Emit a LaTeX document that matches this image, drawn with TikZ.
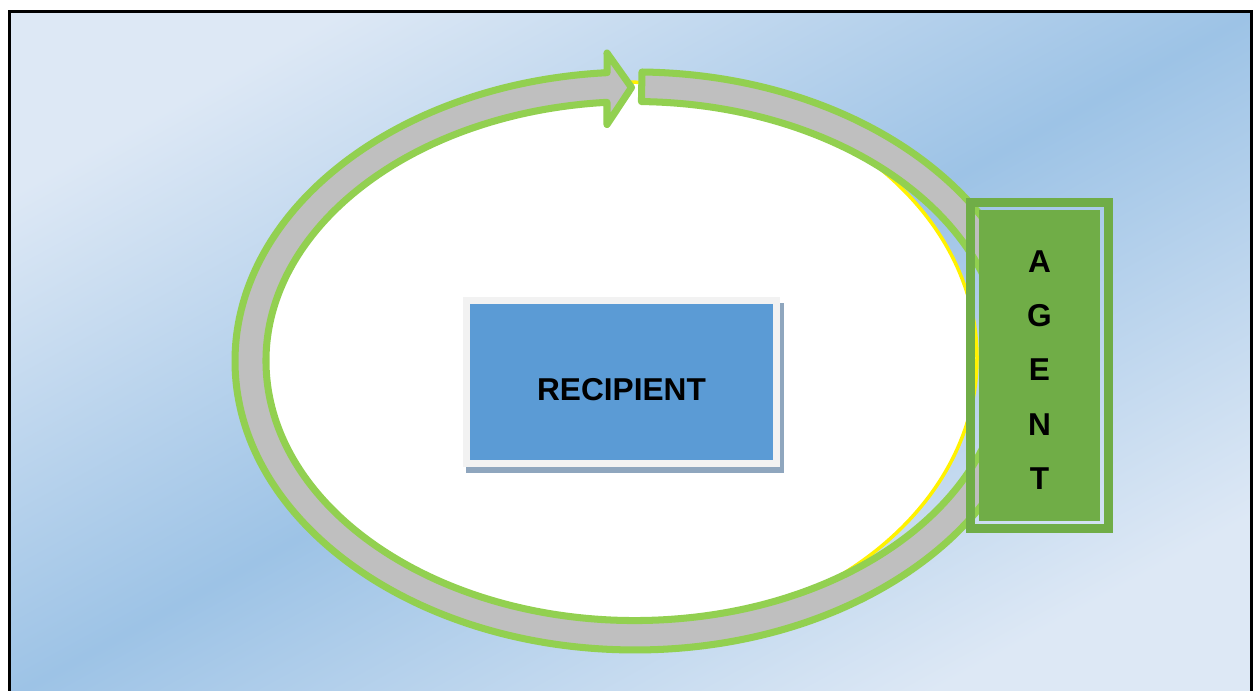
\documentclass[tikz,border=0pt]{standalone}
\usepackage{fontspec}
\setmainfont{Liberation Sans}
\usepackage{xcolor}
\usepackage{tikz}
\usetikzlibrary{positioning,shadows}

\definecolor{bgLight}{RGB}{221,232,245}
\definecolor{bgBlue}{RGB}{157,195,230}
\definecolor{ringGreen}{RGB}{146,208,80}
\definecolor{ringGray}{RGB}{191,191,191}
\definecolor{agentGreen}{RGB}{112,173,71}
\definecolor{recipBlue}{RGB}{91,155,213}
\definecolor{recipFrame}{RGB}{242,242,242}
\definecolor{recipShadow}{RGB}{143,166,190}

\begin{document}
\begin{tikzpicture}[x=0.02cm, y=-0.02cm,
    ring/.style={fill=ringGray, draw=ringGreen, line width=4pt, line join=round},
    recipbox/.style={rectangle, draw=recipFrame, fill=recipBlue, line width=4pt, minimum width=176.9pt, minimum height=92.4pt, inner sep=0pt,
        text height=20.9pt, text depth=0pt, font=\fontsize{18}{22}\selectfont\bfseries,
        drop shadow={shadow xshift=2.2pt, shadow yshift=-3.4pt, fill=recipShadow, draw=recipShadow, line width=4pt, opacity=1}},
    agentframe/.style={rectangle, draw=agentGreen, line width=5.1pt, minimum width=78.2pt, minimum height=186pt, inner sep=0pt},
    agentbox/.style={rectangle, fill=agentGreen, minimum width=68.6pt, minimum height=177.5pt, inner sep=0pt},
    letters/.style={align=center, inner sep=0pt, font=\fontsize{18}{31}\selectfont\bfseries}]

    \useasboundingbox (0,0) rectangle (1254,690);

    % background
    \shade[draw=black, line width=1.7pt, top color=bgLight, bottom color=bgLight, middle color=bgBlue, shading angle=28.8]
        (9.5,11.5) rectangle (1251.5,700);

    % white field behind the cycle
    \draw[fill=white, draw=yellow, line width=2pt] (621,358) ellipse [x radius=356, y radius=276];

    % cycle arrow
    \draw[ring] (642,72) arc[start angle=-89, end angle=266, x radius=400, y radius=289]
        -- (607,53) -- (631.5,87.5) -- (607,124.5) -- (607,102.3)
        arc[start angle=265.65, end angle=-89, x radius=369, y radius=259.5] -- cycle;

    \node [agentframe] (frame) at (1039.5,365.5) {};
    \node [agentbox] (agent) at (frame.center) {};
    \node [letters] (agenttext) at ([yshift=-2.6pt]agent.center) {A\\G\\E\\N\\T};

    \node [recipbox] (recipient) at (621.5,382) {RECIPIENT};
\end{tikzpicture}
\end{document}
